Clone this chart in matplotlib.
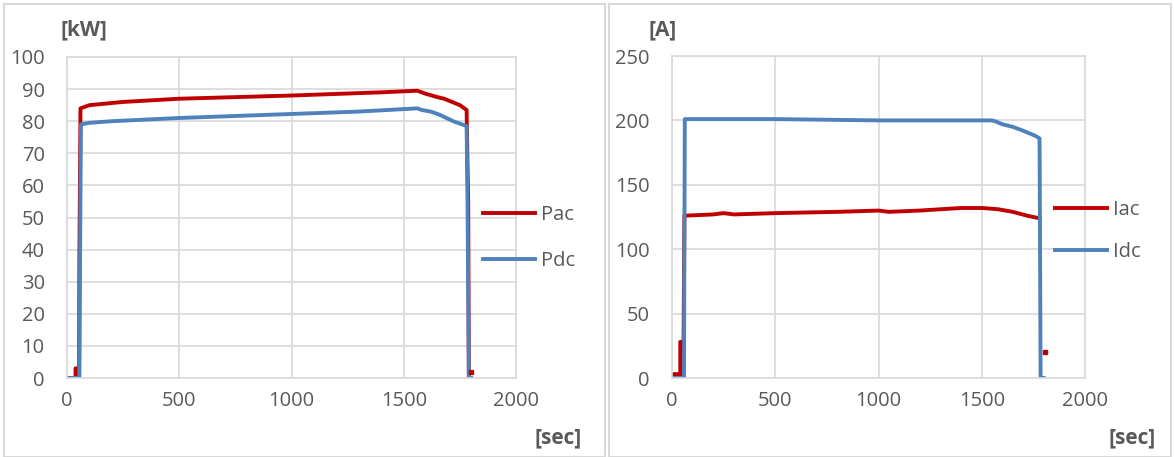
import matplotlib.pyplot as plt
from matplotlib.patches import Rectangle

# left panel: power [kW]
pac_t = [0, 38, 38, 46, 46, 54, 55, 60, 100, 250, 500, 1000, 1400, 1560, 1580, 1600, 1650, 1680, 1750, 1780, 1785, 1787, 1790]
pac_v = [0, 0, 3, 3, 0, 0, 35, 84, 85, 86, 87, 88, 89, 89.5, 89, 88.5, 87.5, 87, 85, 83.5, 62, 55, 0]
pac_dot_t = [1800]
pac_dot_v = [2]
pdc_t = [0, 55, 58, 62, 100, 200, 500, 900, 1300, 1560, 1580, 1620, 1660, 1720, 1780, 1784, 1790, 1800]
pdc_v = [0, 0, 35, 79, 79.5, 80, 81, 82, 83, 84, 83.5, 83, 82, 80, 78.5, 55, 0, 0]

# right panel: current [A]
iac_t = [0, 40, 40, 46, 46, 55, 60, 200, 250, 300, 500, 800, 1000, 1050, 1200, 1400, 1500, 1580, 1650, 1720, 1780]
iac_v = [3, 3, 28, 28, 3, 3, 126, 127, 128, 127, 128, 129, 130, 129, 130, 132, 132, 131, 129, 126, 124]
iac_dot_t = [1805]
iac_dot_v = [20]
idc_t = [0, 58, 62, 500, 1000, 1550, 1570, 1600, 1650, 1700, 1760, 1780, 1785, 1790, 1800]
idc_v = [0, 0, 201, 201, 200, 200, 199, 197, 195, 192, 188, 186, 0, 0, 0]

RED = "#C00000"
BLUE = "#4F81BD"
GRID = "#D9D9D9"
TXT = "#595959"
W, H = 1174, 457

plt.rcParams["font.family"] = ["Open Sans", "DejaVu Sans"]

fig = plt.figure(figsize=(W / 100, H / 100), dpi=100)

# panel frames
for x0, x1 in [(4, 605), (609, 1171)]:
    fig.patches.append(Rectangle((x0 / W, 0), (x1 - x0) / W, 1 - 4 / H,
                                 transform=fig.transFigure, fill=False,
                                 edgecolor=GRID, lw=1.5))


def make_ax(left_px, right_px, top_px, bottom_px):
    ax = fig.add_axes([left_px / W, 1 - bottom_px / H,
                       (right_px - left_px) / W, (bottom_px - top_px) / H])
    for s in ax.spines.values():
        s.set_color(GRID)
        s.set_linewidth(1.2)
    ax.grid(True, color=GRID, lw=1.2)
    ax.set_axisbelow(True)
    ax.tick_params(length=0, labelsize=14.5, colors=TXT)
    ax.tick_params(axis="x", pad=9)
    ax.tick_params(axis="y", pad=16)
    ax.set_xlim(0, 2000)
    ax.set_xticks([0, 500, 1000, 1500, 2000])
    return ax


def add_legend(ax, x_px, y_px, spacing):
    ax.legend(loc="center left", bbox_to_anchor=(x_px / W, 1 - y_px / H),
              bbox_transform=fig.transFigure, frameon=False, borderpad=0,
              borderaxespad=0, fontsize=14.5, labelcolor=TXT,
              handlelength=2.6, labelspacing=spacing, handletextpad=0.3)


ax1 = make_ax(67, 516, 57, 378)
ax1.set_ylim(0, 100)
ax1.set_yticks(range(0, 101, 10))
ax1.plot(pac_t, pac_v, color=RED, lw=2.8, label="Pac")
ax1.plot(pdc_t, pdc_v, color=BLUE, lw=2.8, label="Pdc")
ax1.plot(pac_dot_t, pac_dot_v, "s", color=RED, ms=3)
add_legend(ax1, 483, 238, 1.3)
fig.text(60 / W, 1 - 30 / H, "[kW]", fontsize=15, fontweight="bold", color=TXT, va="center")
fig.text(535 / W, 1 - 438 / H, "[sec]", fontsize=15, fontweight="bold", color=TXT, va="center")

ax2 = make_ax(672, 1085, 56, 378)
ax2.set_ylim(0, 250)
ax2.set_yticks(range(0, 251, 50))
ax2.plot(iac_t, iac_v, color=RED, lw=2.8, label="Iac")
ax2.plot(idc_t, idc_v, color=BLUE, lw=2.8, label="Idc")
ax2.plot(iac_dot_t, iac_dot_v, "s", color=RED, ms=3)
add_legend(ax2, 1055, 231, 1.05)
fig.text(648 / W, 1 - 30 / H, "[A]", fontsize=15, fontweight="bold", color=TXT, va="center")
fig.text(1109 / W, 1 - 438 / H, "[sec]", fontsize=15, fontweight="bold", color=TXT, va="center")

fig.savefig("out.png", dpi=100)
